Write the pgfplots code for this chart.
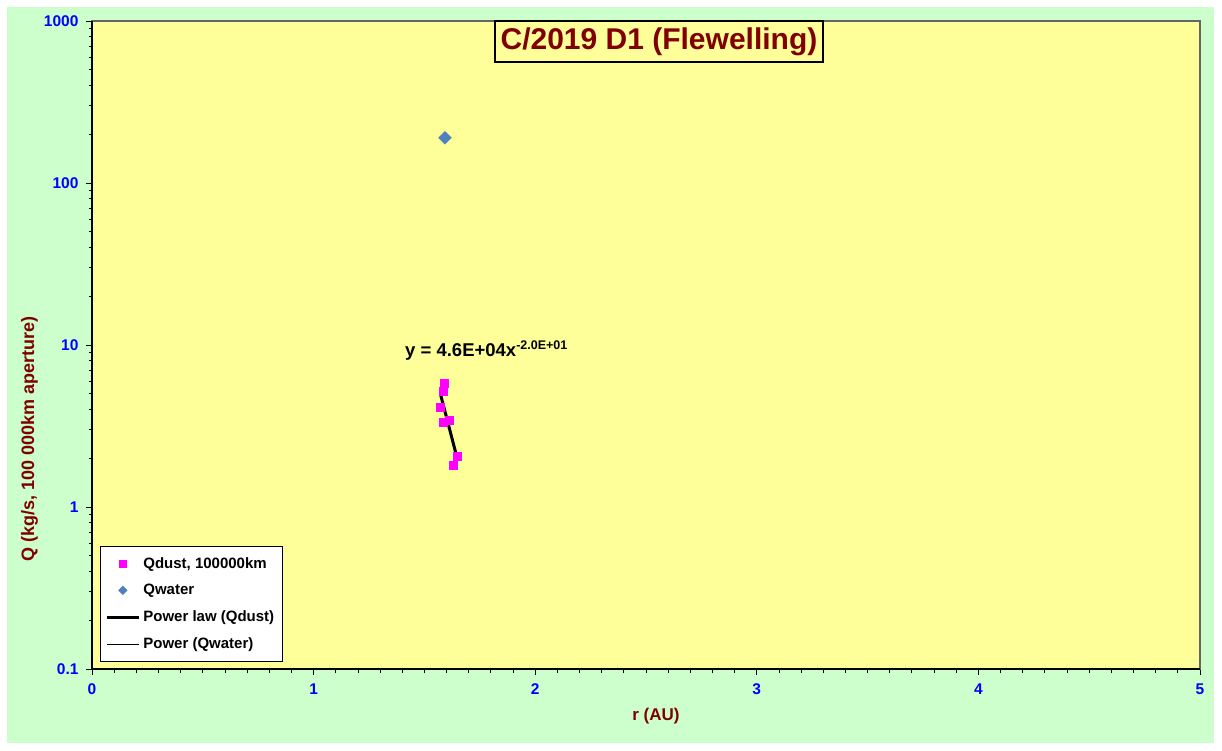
\documentclass[border=0pt]{standalone}
\usepackage{pgfplots}
\pgfplotsset{compat=1.18}
\usepackage{fontspec}
\setmainfont{Liberation Sans}
\definecolor{bggreen}{RGB}{204,255,204}
\definecolor{plotyellow}{RGB}{255,255,153}
\definecolor{darkred}{RGB}{128,0,0}
\definecolor{steel}{RGB}{79,129,189}
\definecolor{mag}{RGB}{255,0,255}
\newcommand{\fs}[1]{\fontsize{#1}{#1}\selectfont}
\begin{document}
\begin{tikzpicture}[x=1pt,y=1pt]
\fill[white] (0,0) rectangle (1222,750);
\fill[bggreen] (7,7) rectangle (1214,743);
\begin{axis}[
  at={(92pt,81pt)}, anchor=south west,
  scale only axis, width=1108pt, height=648pt,
  xmin=0, xmax=5, ymode=log, ymin=0.1, ymax=1000,
  axis background/.style={fill=plotyellow},
  axis line style={gray!80!black, line width=1.2pt},
  xtick={0,1,2,3,4,5}, xticklabels={0,1,2,3,4,5},
  ytick={0.1,1,10,100,1000}, yticklabels={0.1,1,10,100,1000},
  minor x tick num=9,
  xtick pos=bottom, ytick pos=left,
  tick align=outside,
  major tick length=6pt, minor tick length=3.5pt,
  every tick/.style={black, line width=0.8pt},
  xticklabel style={font=\fs{15.5}\bfseries, text=blue, yshift=-5pt},
  yticklabel style={font=\fs{15.5}\bfseries, text=blue, xshift=-4pt},
  clip=false,
  legend style={at={(0.0072,0.0108)}, anchor=south west, fill=white, draw=black, line width=0.8pt,
    font=\fs{15}\bfseries, row sep=10.5pt, inner xsep=5pt, inner ysep=9.5pt,
    nodes={inner xsep=3pt}},
  legend cell align=left,
  legend image code/.code={\draw[mark repeat=2,mark phase=2,#1] plot coordinates {(0pt,0pt) (16pt,0pt) (32pt,0pt)};},
]
\addplot[only marks, mark=square*, mark size=4pt, color=mag, mark options={draw=mag, fill=mag}, forget plot]
 coordinates {(1.588,5.82) (1.584,5.20) (1.570,4.14) (1.584,3.35) (1.611,3.44) (1.647,2.07) (1.629,1.81)};
\addplot[only marks, mark=square*, mark size=4.5pt, color=steel, mark options={draw=steel, fill=steel, rotate=45}, forget plot]
 coordinates {(1.593,190)};
\addplot[black, line width=3pt, no marks, forget plot] coordinates {(1.573,4.95) (1.650,1.95)};
\addlegendimage{only marks, mark=square*, mark size=3.5pt, color=mag, mark options={draw=mag, fill=mag}}
\addlegendentry{Qdust, 100000km}
\addlegendimage{only marks, mark=square*, mark size=2.9pt, color=steel, mark options={draw=steel, fill=steel, rotate=45}}
\addlegendentry{Qwater}
\addlegendimage{black, line width=3pt, no marks}
\addlegendentry{Power law (Qdust)}
\addlegendimage{black, line width=0.8pt, no marks}
\addlegendentry{Power (Qwater)}
\end{axis}
\draw[black, line width=1.2pt] (92,729) -- (92,81) -- (1200,81);
\node[anchor=base west, inner sep=0, font=\fs{18.5}\bfseries] at (405,393) {y = 4.6E+04x\raisebox{7pt}{\fs{12.5}-2.0E+01}};
\draw[black, line width=2.5pt, fill=plotyellow] (495,688) rectangle (823,729);
\node[font=\fs{30}\bfseries, text=darkred, inner sep=0] at (659,708.5) {C/2019 D1 (Flewelling)};
\node[font=\fs{17}\bfseries, text=darkred, inner sep=0] at (656,34) {r (AU)};
\node[font=\fs{18}\bfseries, text=darkred, inner sep=0, rotate=90] at (29.5,311) {Q (kg/s, 100 000km aperture)};
\end{tikzpicture}
\end{document}
